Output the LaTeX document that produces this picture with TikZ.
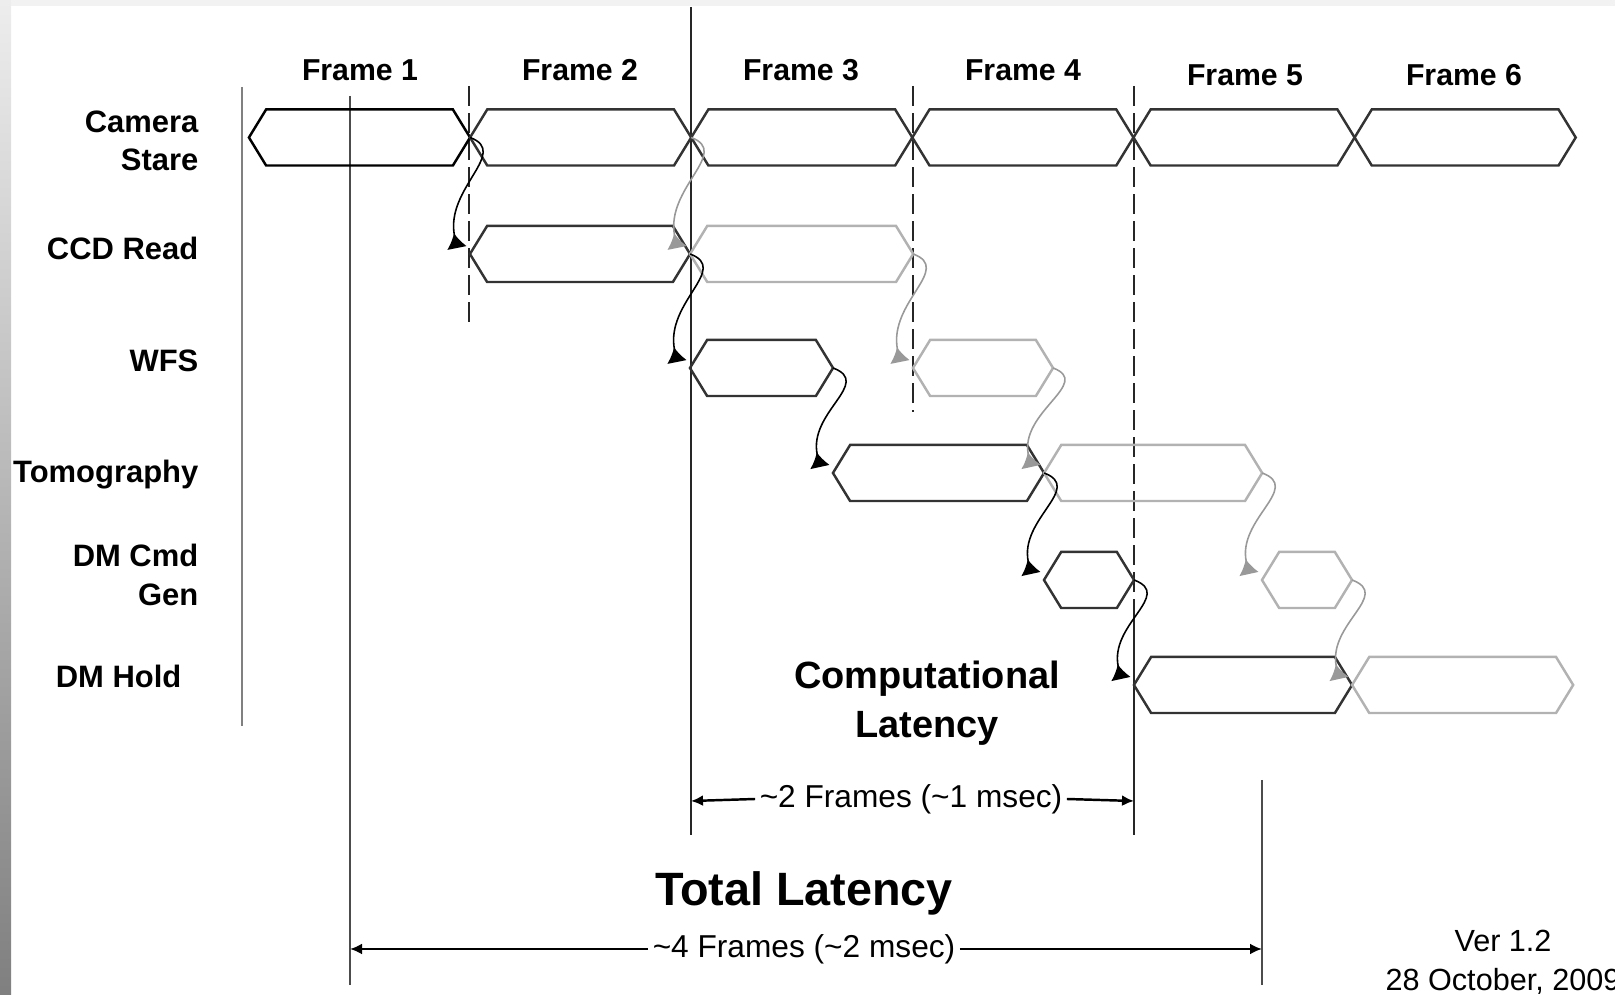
\documentclass[tikz,border=0pt]{standalone}
\usepackage{fontspec}
\setmainfont{Liberation Sans}
\usetikzlibrary{arrows.meta, positioning, shapes.symbols}

\colorlet{busyline}{black!80}
\colorlet{idleline}{black!30}

\begin{document}
\begin{tikzpicture}[
  x=0.01cm, y=-0.01cm,
  hex/.style={signal, signal to=east and west, signal pointer angle=117,
              minimum height=0.56cm, inner sep=0pt, outer sep=0pt, line width=0.7pt},
  busy/.style={hex, draw=busyline},
  idle/.style={hex, draw=idleline},
  rowlbl/.style={anchor=east, align=right, inner sep=0pt,
                 font=\fontsize{8.8}{10.9}\selectfont\bfseries},
  framelbl/.style={anchor=base, inner sep=0pt, font=\fontsize{8.6}{10}\selectfont\bfseries},
  handoff/.style={line width=0.45pt, -{Latex[reversed, length=0.15cm, width=0.2cm]}},
  handoffgray/.style={handoff, draw=black!40},
  guide/.style={line width=0.6pt, draw=black!70},
  guidedash/.style={guide, draw=black!85, dash pattern=on 0.2cm off 0.07cm},
  measure/.style={line width=0.7pt, -{Latex[length=0.12cm, width=0.11cm]}},
  spantxt/.style={inner sep=0.04cm, font=\fontsize{9}{10}\selectfont}
]
\useasboundingbox (0,0) rectangle (1615,995);
% window edge
\shade[top color=black!7, bottom color=black!50] (0,0) rectangle (11,995);
\fill[black!5] (11,0) rectangle (1615,6);

% frame headings
\node[framelbl] (f1) at (360,81) {Frame 1};
\node[framelbl] (f2) at (580,81) {Frame 2};
\node[framelbl] (f3) at (801,81) {Frame 3};
\node[framelbl] (f4) at (1023,81) {Frame 4};
\node[framelbl] (f5) at (1245,86) {Frame 5};
\node[framelbl] (f6) at (1464,86) {Frame 6};

% stage names
\node[rowlbl] (lcam) at (199,141) {Camera\\Stare};
\node[rowlbl, anchor=base east] (lccd) at (199,260) {CCD Read};
\node[rowlbl, anchor=base east] (lwfs) at (199,372) {WFS};
\node[rowlbl, anchor=base east] (ltom) at (199,483) {Tomography};
\node[rowlbl] (lcmd) at (199,575) {DM Cmd\\Gen};
\node[rowlbl, anchor=base east] (lhold) at (182,688) {DM Hold};

% time markers
\draw[line width=0.8pt, black!50] (242,87) -- (242,726);
\draw[guide] (350,96) -- (350,985);
\draw[guide, draw=black!85] (691,7) -- (691,835);
\draw[guide] (1262,780) -- (1262,985);
\draw[guidedash] (469,86) -- (469,322);
\draw[guidedash] (913,86) -- (913,412);
\draw[guidedash] (1134,86) -- (1134,600);
\draw[guide, draw=black!85] (1134,600) -- (1134,835);

% camera stare, one slot per frame
\node[busy, draw=black, minimum width=2.21cm] (cs1) at (359.5,137.5) {};
\node[busy, minimum width=2.21cm, right=0pt of cs1] (cs2) {};
\node[busy, minimum width=2.21cm, right=0pt of cs2] (cs3) {};
\node[busy, minimum width=2.21cm, right=0pt of cs3] (cs4) {};
\node[busy, minimum width=2.21cm, right=0pt of cs4] (cs5) {};
\node[busy, minimum width=2.21cm, right=0pt of cs5] (cs6) {};

% pipeline stages
\node[busy, minimum width=2.20cm] (ccd2) at (580,254) {};
\node[idle, minimum width=2.23cm, right=0pt of ccd2] (ccd3) {};
\node[busy, minimum width=1.43cm] (wfs1) at (761.5,368) {};
\node[idle, minimum width=1.40cm] (wfs2) at (983,368) {};
\node[busy, minimum width=2.11cm] (tom1) at (938.5,473) {};
\node[idle, minimum width=2.18cm, right=0pt of tom1] (tom2) {};
\node[busy, minimum width=0.90cm] (cmd1) at (1089,580) {};
\node[idle, minimum width=0.90cm] (cmd2) at (1307,580) {};
\node[busy, minimum width=2.18cm] (hold1) at (1243,685) {};
\node[idle, minimum width=2.21cm, right=0pt of hold1] (hold2) {};

% hand-offs, frame 1
\draw[handoff] (cs1.east) .. controls +(40,15) and +(-12,-60) .. ([xshift=-0.13cm, yshift=0.06cm]ccd2.west);
\draw[handoff] (ccd2.east) .. controls +(40,15) and +(-12,-60) .. ([xshift=-0.13cm, yshift=0.06cm]wfs1.west);
\draw[handoff] (wfs1.east) .. controls +(40,15) and +(-12,-55) .. ([xshift=-0.13cm, yshift=0.06cm]tom1.west);
\draw[handoff] (tom1.east) .. controls +(40,15) and +(-12,-55) .. ([xshift=-0.13cm, yshift=0.06cm]cmd1.west);
\draw[handoff] (cmd1.east) .. controls +(40,15) and +(-12,-55) .. ([xshift=-0.13cm, yshift=0.06cm]hold1.west);
% hand-offs, frame 2
\draw[handoffgray] (cs2.east) .. controls +(40,15) and +(-12,-60) .. ([xshift=-0.13cm, yshift=0.06cm]ccd3.west);
\draw[handoffgray] (ccd3.east) .. controls +(40,15) and +(-12,-60) .. ([xshift=-0.13cm, yshift=0.06cm]wfs2.west);
\draw[handoffgray] (wfs2.east) .. controls +(40,15) and +(-12,-55) .. ([xshift=-0.13cm, yshift=0.06cm]tom2.west);
\draw[handoffgray] (tom2.east) .. controls +(40,15) and +(-12,-55) .. ([xshift=-0.13cm, yshift=0.06cm]cmd2.west);
\draw[handoffgray] (cmd2.east) .. controls +(40,15) and +(-12,-55) .. ([xshift=-0.13cm, yshift=0.06cm]hold2.west);

% latency spans
\node[font=\fontsize{10.8}{13.9}\selectfont\bfseries, align=center] (complat) at (927,703) {Computational\\Latency};
\coordinate (c2l) at (691,801);
\coordinate (c2r) at (1134,801);
\node[spantxt] (span2) at (911,799) {\textasciitilde2 Frames (\textasciitilde1 msec)};
\draw[measure] (span2.west) -- (c2l);
\draw[measure] (span2.east) -- (c2r);

\node[font=\fontsize{13.3}{15}\selectfont\bfseries, anchor=base] (totlat) at (804,906) {Total Latency};
\coordinate (c4l) at (350,949);
\coordinate (c4r) at (1262,949);
\node[spantxt] (span4) at (804,949) {\textasciitilde4 Frames (\textasciitilde2 msec)};
\draw[measure] (span4.west) -- (c4l);
\draw[measure] (span4.east) -- (c4r);

\node[align=center, font=\fontsize{8.7}{11}\selectfont] (ver) at (1503,962) {Ver 1.2\\28 October, 2009};
\end{tikzpicture}
\end{document}
